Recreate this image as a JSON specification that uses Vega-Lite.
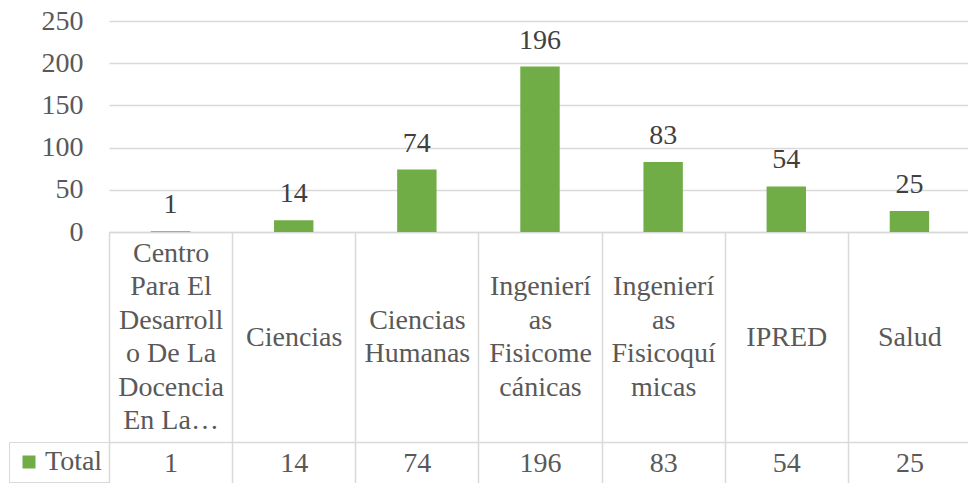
{
  "$schema": "https://vega.github.io/schema/vega-lite/v6.json",
  "width": 862,
  "height": 211,
  "padding": {"left": 8, "top": 7, "right": 0, "bottom": 0},
  "background": "white",
  "config": {"font": "Liberation Serif", "view": {"stroke": null}},
  "data": {
    "values": [
      {"Facultad": "Centro\nPara El\nDesarroll\no De La\nDocencia\nEn La…", "Total": 1},
      {"Facultad": "Ciencias", "Total": 14},
      {"Facultad": "Ciencias\nHumanas", "Total": 74},
      {"Facultad": "Ingenierí\nas\nFisicome\ncánicas", "Total": 196},
      {"Facultad": "Ingenierí\nas\nFisicoquí\nmicas", "Total": 83},
      {"Facultad": "IPRED", "Total": 54},
      {"Facultad": "Salud", "Total": 25}
    ]
  },
  "resolve": {"scale": {"x": "independent"}, "axis": {"x": "independent"}},
  "layer": [
    {
      "mark": {"type": "bar", "width": {"band": 0.32}},
      "encoding": {
        "x": {
          "field": "Facultad",
          "type": "nominal",
          "sort": null,
          "scale": {"paddingInner": 0, "paddingOuter": 0},
          "axis": {
            "orient": "bottom",
            "title": null,
            "labelAngle": 0,
            "labelExpr": "split(datum.label, '\\n')",
            "labelFont": "Liberation Serif",
            "labelFontSize": 28,
            "labelColor": "#595959",
            "labelLineHeight": 33.5,
            "labelBaseline": "middle",
            "labelPadding": {"expr": "-146 - (length(split(datum.label, '\\n')) - 1) * 16.75"},
            "labelLimit": 0,
            "labelOverlap": false,
            "tickBand": "extent",
            "tickSize": 251,
            "tickColor": "#d9d9d9",
            "tickWidth": 1.5,
            "domainColor": "#d9d9d9",
            "domainWidth": 1.5,
            "grid": false
          }
        },
        "y": {
          "field": "Total",
          "type": "quantitative",
          "scale": {"domain": [0, 250], "nice": false},
          "axis": {
            "title": null,
            "values": [0, 50, 100, 150, 200, 250],
            "labelFont": "Liberation Serif",
            "labelFontSize": 28,
            "labelColor": "#595959",
            "labelPadding": 26,
            "ticks": false,
            "domain": false,
            "gridColor": "#d9d9d9",
            "gridWidth": 1.5
          }
        },
        "color": {
          "datum": "Total",
          "scale": {"range": ["#70ad47"]},
          "legend": {
            "orient": "none",
            "legendX": -100,
            "legendY": 421,
            "title": null,
            "symbolType": "square",
            "symbolSize": 169,
            "symbolStrokeWidth": 0,
            "labelFont": "Liberation Serif",
            "labelFontSize": 28,
            "labelColor": "#595959",
            "labelOffset": 2,
            "padding": 6,
            "strokeColor": "#d9d9d9"
          }
        }
      }
    },
    {
      "mark": {"type": "text", "font": "Liberation Serif", "fontSize": 28, "color": "#404040", "baseline": "middle", "dy": -26},
      "encoding": {
        "x": {
          "field": "Total",
          "type": "nominal",
          "sort": null,
          "scale": {"paddingInner": 0, "paddingOuter": 0},
          "axis": {
            "orient": "bottom",
            "offset": 210,
            "title": null,
            "labelAngle": 0,
            "labelFont": "Liberation Serif",
            "labelFontSize": 28,
            "labelColor": "#595959",
            "labelBaseline": "middle",
            "labelPadding": 21,
            "ticks": false,
            "domainColor": "#d9d9d9",
            "domainWidth": 1.5,
            "grid": false
          }
        },
        "y": {"field": "Total", "type": "quantitative", "scale": {"domain": [0, 250], "nice": false}},
        "text": {"field": "Total", "type": "quantitative"}
      }
    }
  ]
}
